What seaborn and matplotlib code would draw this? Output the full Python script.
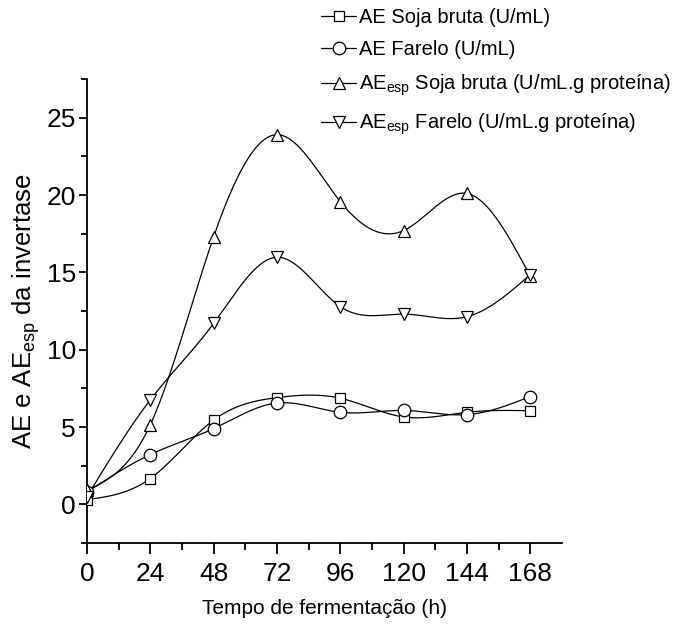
import numpy as np
import pandas as pd
import seaborn as sns
import matplotlib
matplotlib.use("Agg")
import matplotlib.pyplot as plt
from matplotlib.lines import Line2D

# ---- data ----
tempo = [0, 24, 48, 72, 96, 120, 144, 168]
ae_soja = [0.3, 1.67, 5.45, 6.9, 6.86, 5.65, 5.95, 6.05]
ae_farelo = [0.8, 3.22, 4.9, 6.55, 5.95, 6.07, 5.8, 6.97]
aesp_soja = [0.9, 5.15, 17.3, 23.9, 19.57, 17.7, 20.1, 14.75]
aesp_farelo = [0.5, 6.76, 11.7, 15.98, 12.78, 12.3, 12.13, 14.85]

labels = [
    "AE Soja bruta (U/mL)",
    "AE Farelo (U/mL)",
    "AE$_{esp}$ Soja bruta (U/mL.g proteína)",
    "AE$_{esp}$ Farelo (U/mL.g proteína)",
]
series = [ae_soja, ae_farelo, aesp_soja, aesp_farelo]
markers = ["s", "o", "^", "v"]
msizes = [7.5, 9, 9, 9]

sns.set_style("ticks")
plt.rcParams["font.family"] = ["Liberation Sans", "DejaVu Sans"]
plt.rcParams["mathtext.default"] = "regular"
for key in ["text.color", "axes.labelcolor", "xtick.color", "ytick.color", "axes.edgecolor"]:
    plt.rcParams[key] = "black"


def natural_spline(x, y, n=300):
    x = np.asarray(x, float)
    y = np.asarray(y, float)
    k = len(x)
    h = np.diff(x)
    A = np.zeros((k, k))
    b = np.zeros(k)
    A[0, 0] = 1
    A[-1, -1] = 1
    for i in range(1, k - 1):
        A[i, i - 1] = h[i - 1]
        A[i, i] = 2 * (h[i - 1] + h[i])
        A[i, i + 1] = h[i]
        b[i] = 6 * ((y[i + 1] - y[i]) / h[i] - (y[i] - y[i - 1]) / h[i - 1])
    M = np.linalg.solve(A, b)
    xs = np.linspace(x[0], x[-1], n)
    idx = np.clip(np.searchsorted(x, xs) - 1, 0, k - 2)
    x0, x1 = x[idx], x[idx + 1]
    hh = x1 - x0
    t0 = x1 - xs
    t1 = xs - x0
    ys = (M[idx] * t0 ** 3 / (6 * hh) + M[idx + 1] * t1 ** 3 / (6 * hh)
          + (y[idx] / hh - M[idx] * hh / 6) * t0
          + (y[idx + 1] / hh - M[idx + 1] * hh / 6) * t1)
    return xs, ys


fig = plt.figure(figsize=(6.99, 6.30), dpi=100)
ax = fig.add_axes([87 / 699, 1 - 543 / 630, (562 - 87) / 699, (543 - 79) / 630])

handles = []
for lab, vals, mk, ms in zip(labels, series, markers, msizes):
    xs, ys = natural_spline(tempo, vals)
    curve = pd.DataFrame({"x": xs, "y": ys})
    sns.lineplot(data=curve, x="x", y="y", ax=ax, color="black", lw=0.9,
                 sort=False, estimator=None, zorder=2)
    pts = pd.DataFrame({"x": tempo, "y": vals})
    ax.plot(pts["x"], pts["y"], ls="none", marker=mk, ms=ms, mfc="white",
            mec="black", mew=0.9, zorder=3, clip_on=True)
    handles.append(Line2D([], [], color="black", lw=0.9, marker=mk, ms=ms,
                          mfc="white", mec="black", mew=0.9))

ax.set_xlim(0, 180)
ax.set_ylim(-2.5, 27.5)
ax.set_xticks(tempo)
ax.set_xticks(np.arange(12, 180, 24), minor=True)
ax.set_yticks([0, 5, 10, 15, 20, 25])
ax.set_yticks(np.arange(-2.5, 27.6, 5), minor=True)
ax.tick_params(axis="both", which="major", width=1.3, labelsize=19, direction="out")
ax.tick_params(axis="x", which="major", length=8, pad=6)
ax.tick_params(axis="y", which="major", length=6, pad=2)
ax.tick_params(axis="x", which="minor", length=5, width=1.3, direction="out")
ax.tick_params(axis="y", which="minor", length=4, width=1.3, direction="out")
for s in ["left", "bottom"]:
    ax.spines[s].set_linewidth(1.3)
sns.despine(ax=ax)

ax.set_xlabel("Tempo de fermentação (h)", fontsize=15, labelpad=9)
ax.set_ylabel("AE e AE$_{esp}$ da invertase", fontsize=18.5, labelpad=3)

fig.legend(handles, labels, loc="upper left", bbox_to_anchor=(321 / 699, 1 - 8 / 630),
           frameon=False, fontsize=14.5, handlelength=1.75, handletextpad=0.15,
           labelspacing=0.66, borderaxespad=0, borderpad=0)

fig.savefig("out.png", dpi=100)
